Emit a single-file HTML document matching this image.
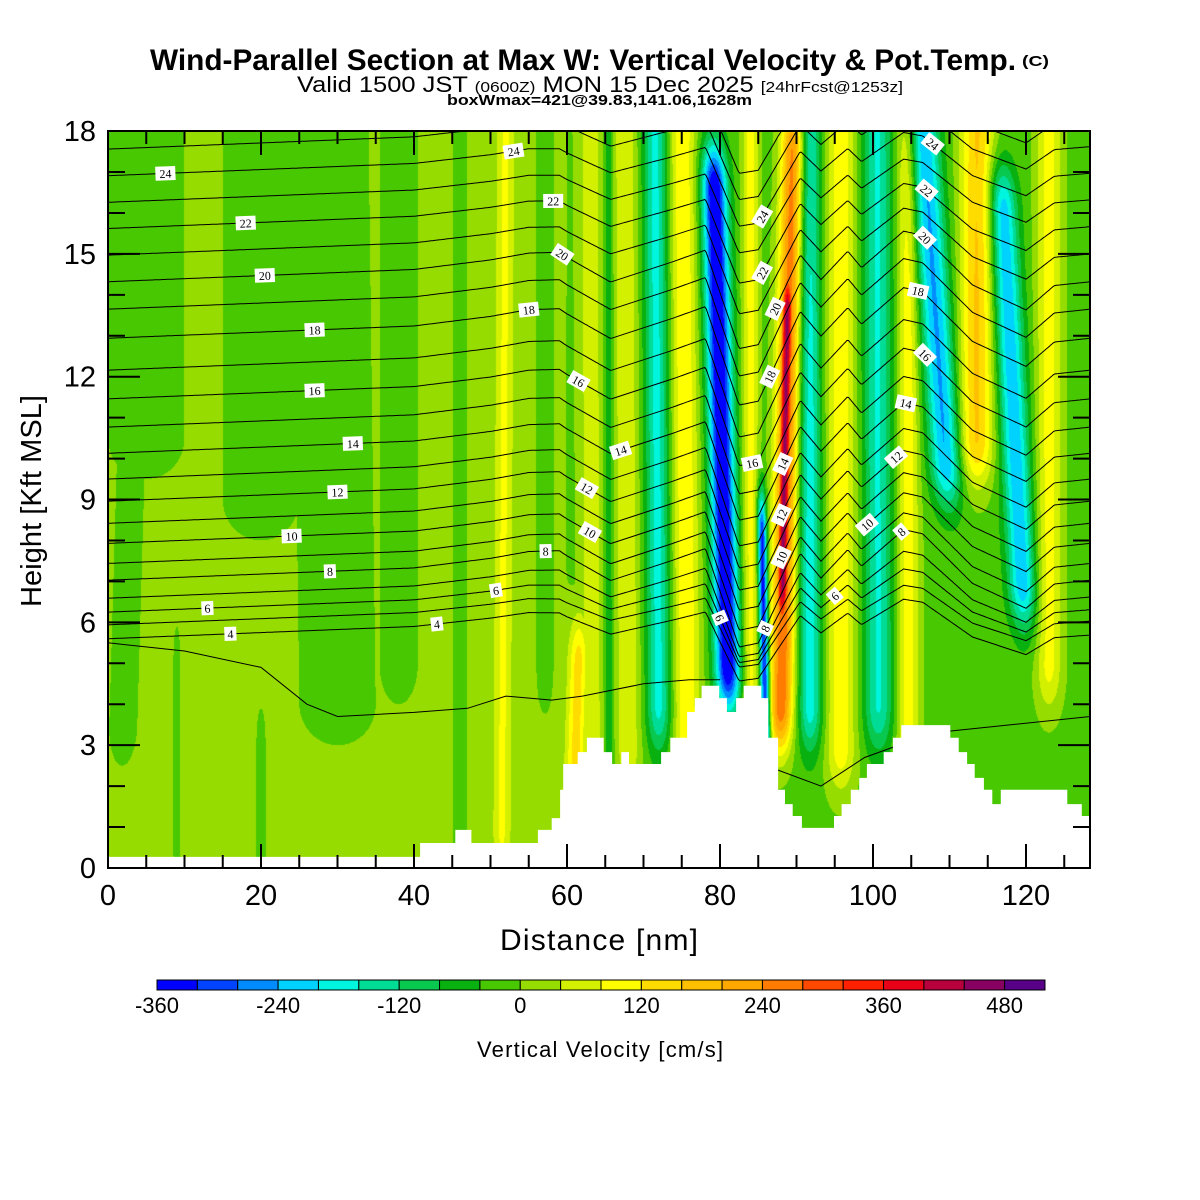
<!DOCTYPE html>
<html><head><meta charset="utf-8">
<style>
html,body{margin:0;padding:0;background:#fff;}
#wrap{position:relative;width:1200px;height:1200px;overflow:hidden;background:#fff;font-family:"Liberation Sans",sans-serif;}
#field{position:absolute;left:108px;top:131px;}
#ov{position:absolute;left:0;top:0;}
</style></head>
<body>
<div id="wrap">
<canvas id="field" width="982" height="737"></canvas>
<svg id="ov" width="1200" height="1200" xmlns="http://www.w3.org/2000/svg">
<g id="contours"></g>
<polygon id="terrain" fill="#fff"></polygon>
<g id="labels"></g>
<rect x="108" y="131" width="982" height="737" fill="none" stroke="#000" stroke-width="2"></rect>
<g id="ticks"></g>
<g id="xtl" font-size="29" text-anchor="middle"></g>
<g id="ytl" font-size="29" text-anchor="end"></g>
<text x="599" y="950" font-size="30" text-anchor="middle" textLength="198">Distance [nm]</text>
<text transform="translate(41,501) rotate(-90)" font-size="29" text-anchor="middle" textLength="212">Height [Kft MSL]</text>
<text x="150" y="70" font-size="30" font-weight="bold" textLength="866" lengthAdjust="spacingAndGlyphs">Wind-Parallel Section at Max W: Vertical Velocity &amp; Pot.Temp.</text>
<text x="1022" y="66" font-size="15" font-weight="bold" textLength="27" lengthAdjust="spacingAndGlyphs">(C)</text>
<text x="297" y="92" font-size="22" textLength="606" lengthAdjust="spacingAndGlyphs">Valid 1500 JST <tspan font-size="15">(0600Z)</tspan> MON 15 Dec 2025 <tspan font-size="15">[24hrFcst@1253z]</tspan></text>
<text x="447" y="105" font-size="15" font-weight="bold" textLength="305" lengthAdjust="spacingAndGlyphs">boxWmax=421@39.83,141.06,1628m</text>
<g id="cbar"></g>
<g id="cbl" font-size="22" text-anchor="middle"></g>
<text x="600" y="1057" font-size="22" text-anchor="middle" textLength="246">Vertical Velocity [cm/s]</text>
</svg>
</div>
<script>
// ---------- data ----------
const binColors=["#0000ff","#0044ff","#008cff","#00d2ff","#00f5de","#00dc96","#08c850","#08b010","#48c800","#96dc00","#d2f000","#ffff00","#ffdc00","#ffc000","#ffa800","#ff7c00","#ff4800","#ff2000","#e80018","#b8003c","#880060","#580088"];
const cbarTicks=[-360,-240,-120,0,120,240,360,480];
const xTicks=[0,20,40,60,80,100,120];
const yTicks=[0,3,6,9,12,15,18];
// background vertical velocity (cm/s) by distance
const baseX=[0,57,62,128.4];
const baseV=[20,20,-15,-15];
// wave bands: distance at h0, distance at h1, width (nm), amplitude (cm/s)
const bandX0=[2,5,30,20,38,9,20,46,51.5,57,61,63.3,65.5,68,72,75.7,81,86,84,88,88.2,91.8,95.8,100.7,104.6,109.5,113.5,119.5,123];
const bandH0=[3.5,10.5,4,9,5,0.5,0,0,1,5,1.5,3,3,3,4,3,5,3.3,4,4,7,4,3,4,3,10,10.5,7,5];
const bandX1=[3,5,29,20,38,9,20,46,52,57,61.5,63,65.5,67.5,71.5,75,79.3,85.5,84,89.6,88.8,91.5,95.8,100.5,104.6,106.5,113.7,117,123];
const bandH1=[10,19,19,19,19,5,3,19,19,19,5,19,19,19,19,19,16.5,8,19,17.5,13.5,19,19,19,19,18,19,16,19];
const bandW=[2.2,6,6,6,3,0.6,0.8,1.0,1.0,1.0,1.3,1.4,0.6,1.7,1.6,1.8,1.6,0.6,1.1,1.6,0.8,1.6,2.0,1.9,1.4,2.0,2.2,1.8,1.7];
const bandAmp=[-40,-40,-40,-40,-40,-35,-35,-45,70,-55,150,90,-60,90,-160,130,-370,-330,110,290,470,-170,120,-150,120,-230,180,-220,110];
// terrain steps (nm, kft)
const terrainNm=[0,40.8,45.4,47.5,56.2,58.0,59.1,59.5,61.4,62.6,64.8,65.9,67.1,68.1,72.3,73.5,75.7,76.7,77.6,79.9,80.9,82.1,83.1,85.4,86.3,87.6,88.5,89.5,90.7,94.9,95.9,97.1,98.2,99.2,101.4,102.6,103.7,110.1,111.2,112.3,113.3,114.5,115.6,116.7,125.4,127.3];
const terrainH=[0.27,0.61,0.93,0.61,0.93,1.22,1.91,2.54,2.83,3.18,2.83,2.54,2.83,2.54,2.83,3.18,3.81,4.15,4.45,4.15,3.81,4.15,4.45,4.15,3.18,1.91,1.56,1.27,0.98,1.27,1.56,1.91,2.2,2.54,2.83,3.18,3.49,3.18,2.83,2.54,2.2,1.91,1.56,1.91,1.56,1.27];
// potential temperature contours
const thetaVals=[4,5,6,7,8,9,10,11,12,13,14,15,16,17,18,19,20,21,22,23,24,25,26];
const thetaLeftH=[5.6,5.94,6.25,6.59,7.03,7.44,7.93,8.42,8.96,9.5,10.13,10.77,11.46,12.16,12.94,13.65,14.32,14.97,15.62,16.26,16.91,17.56,18.2];
const thetaAmp=[0.7,0.7,0.8,0.9,1,1,1,1,1,1,1,1,1,1,1,1,1,0.9,0.85,0.8,0.8,0.8,0.8];
const riseX=[0,40,55,60,128.4];
const riseV=[0,0.3,0.5,0.4,0.3];
const dispX=[0,40,50,55,59,65.7,73.7,78.1,82.5,85,90.5,93.2,96.7,98.5,104,106.5,113,120,123.7,128.4];
const dispV=[0,0,0.1,0.2,0.3,-0.4,0.1,0.4,-2.0,-1.9,0.3,-0.3,0.4,0,0.9,0.8,-0.4,-1.0,-0.4,-0.3];
const lowLineAX=[0,10,20,26,30,40,47,52,58,62,70,76,80];
const lowLineAH=[5.5,5.3,4.9,4.0,3.7,3.8,3.9,4.2,4.1,4.2,4.5,4.6,4.6];
const lowLineBX=[86,93.2,98.9,107.8,128.4];
const lowLineBH=[2.5,2.0,2.7,3.3,3.7];
// contour labels: theta, distance
const labelTheta=[24,22,20,18,16,14,12,10,8,6,4,4,6,8,10,12,14,16,18,20,22,24,24,22,20,18,16,14,12,10,8,6,6,8,10,12,14,16,18,20,22,24];
const labelX=[7.5,18,20.5,27,27,32,30,24,29,13,16,43,50.7,57.2,63,62.6,67,61.5,55,59.4,58.2,53,85.5,85.5,87.2,86.5,84.2,88.2,88,88,85.9,80,95,103.7,99.2,103,104.3,106.8,105.9,106.8,107,107.8];

// ---------- scales ----------
const X0=108,Y0=868,SX=7.65,SY=40.94,XMAX=128.4,HMAX=18;
const px=x=>X0+x*SX, py=h=>Y0-h*SY;
function interp(xs,vs,x){
  if(x<=xs[0])return vs[0];
  for(let i=1;i<xs.length;i++){ if(x<=xs[i]){const t=(x-xs[i-1])/(xs[i]-xs[i-1]);return vs[i-1]+t*(vs[i]-vs[i-1]);} }
  return vs[vs.length-1];
}
const NS="http://www.w3.org/2000/svg";
function mk(tag,attrs,parent){const e=document.createElementNS(NS,tag);for(const k in attrs)e.setAttribute(k,attrs[k]);parent.appendChild(e);return e;}

// ---------- field ----------
(function(){
  const cv=document.getElementById('field'),ctx=cv.getContext('2d');
  const W=cv.width,H=cv.height,img=ctx.createImageData(W,H),d=img.data;
  const rgb=binColors.map(c=>[parseInt(c.substr(1,2),16),parseInt(c.substr(3,2),16),parseInt(c.substr(5,2),16)]);
  const nb=bandAmp.length;
  const baseRow=new Float32Array(W);
  for(let i=0;i<W;i++)baseRow[i]=interp(baseX,baseV,(i+0.5)/SX);
  const xc=new Float32Array(nb),env=new Float32Array(nb);
  for(let j=0;j<H;j++){
    const h=(H-j-0.5)/SY;
    for(let k=0;k<nb;k++){
      xc[k]=bandX0[k]+(bandX1[k]-bandX0[k])*(h-bandH0[k])/(bandH1[k]-bandH0[k]);
      let e=1;
      if(h<bandH0[k])e=Math.exp(-Math.pow((bandH0[k]-h)/1.2,2));
      else if(h>bandH1[k])e=Math.exp(-Math.pow((h-bandH1[k])/1.2,2));
      env[k]=e*bandAmp[k];
    }
    for(let i=0;i<W;i++){
      const x=(i+0.5)/SX;let mn=0,mx=0;
      for(let k=0;k<nb;k++){
        const dx=(x-xc[k])/bandW[k];
        if(dx>3||dx<-3)continue;
        const v=env[k]*Math.exp(-dx*dx);
        if(v<mn)mn=v;else if(v>mx)mx=v;
      }
      const v=baseRow[i]+mn+mx;
      let b=Math.floor((v+360)/40);if(b<0)b=0;if(b>21)b=21;
      const o=(j*W+i)*4,c=rgb[b];
      d[o]=c[0];d[o+1]=c[1];d[o+2]=c[2];d[o+3]=255;
    }
  }
  ctx.putImageData(img,0,0);
})();

// ---------- contours ----------
function thetaH(idx,x){return thetaLeftH[idx]+interp(riseX,riseV,x)+interp(dispX,dispV,x)*thetaAmp[idx];}
(function(){
  const g=document.getElementById('contours');
  function addPath(pts,name){
    let s='';
    pts.forEach((p,i)=>{s+=(i?'L':'M')+px(p[0]).toFixed(1)+','+Math.max(131,py(p[1])).toFixed(1);});
    const p=mk('path',{d:s,fill:'none',stroke:'#000','stroke-width':'1'},g);
    
    
  }
  thetaVals.forEach((t,idx)=>{
    const pts=[];
    for(let x=0;x<=XMAX+0.001;x+=0.2){const h=thetaH(idx,x);pts.push([x,Math.min(h,18.05)]);}
    addPath(pts,'theta-contour-'+t);
  });
  addPath(lowLineAX.map((x,i)=>[x,lowLineAH[i]]),'theta-contour-3');
  addPath(lowLineBX.map((x,i)=>[x,lowLineBH[i]]),'theta-contour-3-lee');
})();

// ---------- terrain ----------
(function(){
  const pts=[[px(0),py(0)]];
  terrainNm.forEach((x,i)=>{
    const xs=px(x),ys=py(terrainH[i]);
    if(i>0)pts.push([xs,py(terrainH[i-1])]);else pts.push([xs,ys]);
    pts.push([xs,ys]);
  });
  pts.push([px(XMAX),py(terrainH[terrainH.length-1])]);
  pts.push([px(XMAX),py(0)]);
  document.getElementById('terrain').setAttribute('points',pts.map(p=>p[0].toFixed(1)+','+p[1].toFixed(1)).join(' '));
})();

// ---------- contour labels ----------
(function(){
  const g=document.getElementById('labels');
  labelTheta.forEach((t,i)=>{
    const idx=thetaVals.indexOf(t),x=labelX[i];
    const h=thetaH(idx,x);
    const dy=py(thetaH(idx,x+0.15))-py(thetaH(idx,x-0.15)),dx=0.3*SX;
    let ang=Math.atan2(dy,dx)*180/Math.PI;
    const gg=mk('g',{transform:'translate('+px(x).toFixed(1)+','+py(h).toFixed(1)+') rotate('+ang.toFixed(1)+')'},g);
    
    
    const w=String(t).length>1?20:12;
    mk('rect',{x:-w/2,y:-7,width:w,height:14,fill:'#fff'},gg);
    const tx=mk('text',{x:0,y:4.5,'font-size':'12','text-anchor':'middle','font-family':'"Liberation Serif",serif'},gg);
    tx.textContent=t;
  });
})();

// ---------- ticks ----------
(function(){
  const g=document.getElementById('ticks');
  let s='';
  for(let x=0;x<=125;x+=5){
    const maj=x%20===0,L=maj?24:13,X=px(x);
    s+='M'+X+','+Y0+'V'+(Y0-L)+'M'+X+',131V'+(131+L);
  }
  for(let h=1;h<18;h++){
    const maj=h%3===0,L=maj?32:17,Y=py(h);
    s+='M108,'+Y+'H'+(108+L)+'M1090,'+Y+'H'+(1090-L);
  }
  const p=mk('path',{d:s,stroke:'#000','stroke-width':'2',fill:'none'},g);
  
  
  const gx=document.getElementById('xtl');
  xTicks.forEach(v=>{
    const t=mk('text',{x:px(v),y:905},gx);t.textContent=v;
    
    
  });
  const gy=document.getElementById('ytl');
  yTicks.forEach(v=>{
    const t=mk('text',{x:96,y:py(v)+10},gy);t.textContent=v;
    
    
  });
})();

// ---------- colorbar ----------
(function(){
  const g=document.getElementById('cbar');
  const cx=v=>157+(v+360)*(888/880);
  binColors.forEach((c,i)=>{
    const r=mk('rect',{x:cx(-360+i*40),y:980,width:888/22,height:10,fill:c,stroke:'#000','stroke-width':'1'},g);
    
    
  });
  const gl=document.getElementById('cbl');
  cbarTicks.forEach(v=>{
    const t=mk('text',{x:cx(v),y:1013},gl);t.textContent=v;
    
    
  });
})();
</script>
</body></html>
